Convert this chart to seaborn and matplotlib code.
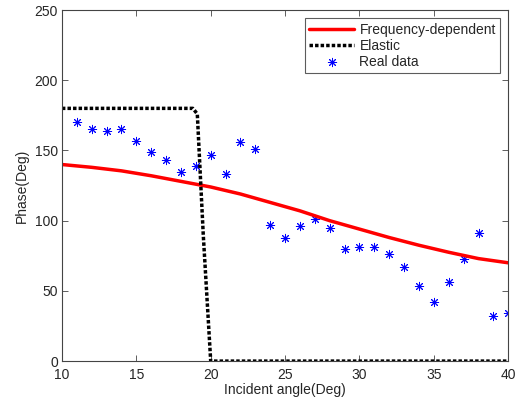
import matplotlib
matplotlib.use("Agg")
import matplotlib.pyplot as plt
import seaborn as sns
import pandas as pd

# Data
freq_angle = [10, 12, 14, 16, 18, 20, 22, 24, 26, 28, 30, 32, 34, 36, 38, 40]
freq_phase = [140, 138, 135.5, 132, 128, 124, 119, 113, 107, 100, 94, 88, 82.5, 77.5, 73, 70]

elastic_angle = [10, 18.8, 19.1, 19.5, 20.0, 40]
elastic_phase = [180, 180, 176, 90, 0, 0]

real_angle = list(range(11, 41))
real_phase = [170, 165.5, 164, 165.5, 157, 149, 143, 135, 139, 147, 133, 156, 151,
              97, 88, 96, 101, 95, 80, 81, 81, 76, 67, 53.5, 42, 56, 73, 91, 32, 34]

xticks = [10, 15, 20, 25, 30, 35, 40]
yticks = [0, 50, 100, 150, 200, 250]

sns.set_style("white")
plt.rcParams['font.family'] = ['Liberation Sans', 'DejaVu Sans']
plt.rcParams['font.size'] = 10

fig = plt.figure(figsize=(5.16, 4.03), dpi=100)
ax = fig.add_axes([0.120, 0.104, 0.865, 0.871])

df_f = pd.DataFrame({"x": freq_angle, "y": freq_phase})
df_e = pd.DataFrame({"x": elastic_angle, "y": elastic_phase})
df_r = pd.DataFrame({"x": real_angle, "y": real_phase})

sns.lineplot(data=df_f, x="x", y="y", ax=ax, color="red", linewidth=2.5,
             label="Frequency-dependent", sort=False)
sns.lineplot(data=df_e, x="x", y="y", ax=ax, color="black", linewidth=2.5,
             linestyle=(0, (1, 0.6)), label="Elastic", sort=False)
sns.scatterplot(data=df_r, x="x", y="y", ax=ax, color="blue", marker=(8, 2, 0),
                s=36, linewidth=0.7, edgecolor="blue", label="Real data")

ax.set_xlim(10, 40)
ax.set_ylim(0, 250)
ax.set_xticks(xticks)
ax.set_yticks(yticks)
ax.set_xlabel("Incident angle(Deg)", fontsize=10, labelpad=1)
ax.set_ylabel("Phase(Deg)", fontsize=10, labelpad=4)

for s in ax.spines.values():
    s.set_visible(True)
    s.set_color("#444444")
    s.set_linewidth(0.8)
ax.tick_params(direction="in", length=4, width=0.6, color="#444444",
               top=True, right=True, bottom=True, left=True, labelsize=10, pad=3)
ax.tick_params(axis="x", pad=5)

leg = ax.legend(loc="upper right", frameon=True, fancybox=False, edgecolor="#333333",
                fontsize=10, handlelength=3.2, borderpad=0.3, labelspacing=0.15,
                handletextpad=0.4, borderaxespad=0.6)
leg.get_frame().set_linewidth(0.8)

fig.savefig("out.png", dpi=100)
